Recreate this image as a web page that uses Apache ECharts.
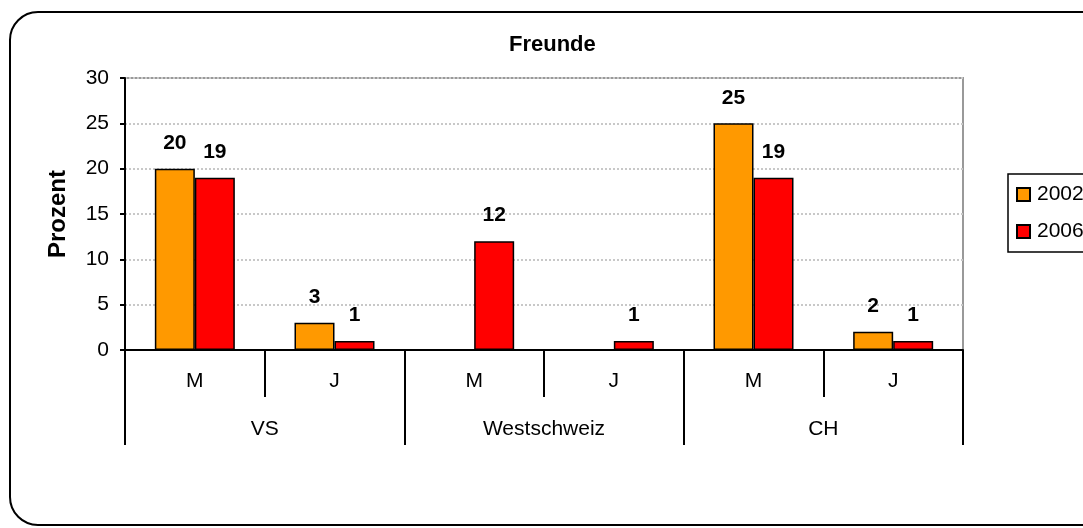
<!DOCTYPE html>
<html>
<head>
<meta charset="utf-8">
<script src="https://cdn.jsdelivr.net/npm/echarts@6/dist/echarts.min.js"></script>
<style>
    html, body { margin: 0; padding: 0; background: #fff; }
    #chart { width: 1083px; height: 528px; }
</style>
</head>
<body>
<div id="chart"></div>
<script>
var groups = ['M', 'J', 'M', 'J', 'M', 'J'];
var regions = ['VS', 'Westschweiz', 'CH'];
var values2002 = [20, 3, null, null, 25, 2];
var values2006 = [19, 1, 12, 1, 19, 1];

var font = 'Liberation Sans, Arial, sans-serif';

function barSeries(name, data, color) {
    return {
        name: name,
        type: 'bar',
        xAxisIndex: 0,
        data: data,
        barWidth: 40,
        barGap: '0%',
        itemStyle: { color: color, borderColor: '#000', borderWidth: 1.5 },
        label: {
            show: true,
            position: 'top',
            distance: 15,
            color: '#000',
            fontWeight: 'bold',
            fontSize: 21,
            fontFamily: font
        }
    };
}

var myChart = echarts.init(document.getElementById('chart'));
myChart.setOption({
    animation: false,
    textStyle: { fontFamily: font },
    title: {
        text: 'Freunde',
        left: 509,
        top: 34,
        padding: 0,
        textStyle: { fontSize: 22, fontWeight: 'bold', color: '#000', fontFamily: font }
    },
    legend: {
        orient: 'vertical',
        left: 1008,
        top: 174,
        padding: [10, 60, 10, 8],
        itemWidth: 13,
        itemHeight: 13,
        itemGap: 16,
        icon: 'rect',
        borderColor: '#000',
        borderWidth: 1.5,
        textStyle: { fontSize: 21, color: '#000', fontFamily: font, padding: [0, 0, 0, 2] }
    },
    grid: {
        left: 125,
        top: 78,
        right: 120,
        bottom: 178,
        show: true,
        borderColor: '#999',
        borderWidth: 2
    },
    xAxis: [{
        type: 'category',
        data: groups,
        position: 'bottom',
        axisLine: { lineStyle: { color: '#000', width: 2 } },
        axisTick: { show: true, interval: 0, length: 47, lineStyle: { color: '#000', width: 2 } },
        axisLabel: { margin: 21, fontSize: 21, color: '#000', fontFamily: font }
    }, {
        type: 'category',
        data: regions,
        position: 'bottom',
        axisLine: { show: false },
        axisTick: { show: true, interval: 0, length: 95, lineStyle: { color: '#000', width: 2 } },
        axisLabel: { margin: 69, fontSize: 21, color: '#000', fontFamily: font }
    }],
    yAxis: {
        type: 'value',
        min: 0,
        max: 30,
        interval: 5,
        name: 'Prozent',
        nameLocation: 'middle',
        nameGap: 55,
        nameTextStyle: { fontSize: 24, fontWeight: 'bold', color: '#000', fontFamily: font },
        axisLine: { show: true, lineStyle: { color: '#000', width: 2 } },
        axisTick: { show: true, length: 5, lineStyle: { color: '#000', width: 2 } },
        axisLabel: { margin: 16, fontSize: 21, color: '#000', fontFamily: font },
        splitLine: { lineStyle: { color: '#c8c8c8', type: 'dotted', width: 2 } }
    },
    graphic: [{
        type: 'rect',
        shape: { x: 10, y: 12, width: 1110, height: 513, r: 28 },
        style: { fill: 'none', stroke: '#000', lineWidth: 2 },
        silent: true
    }],
    series: [
        barSeries('2002', values2002, '#ff9900'),
        barSeries('2006', values2006, '#ff0000')
    ]
});
</script>
</body>
</html>
